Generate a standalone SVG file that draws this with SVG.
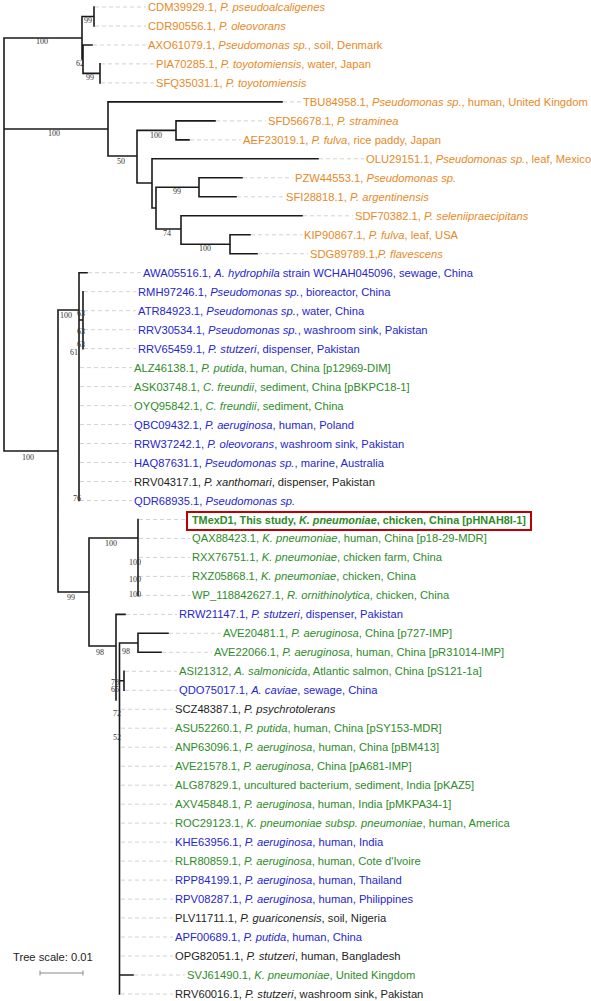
<svg xmlns="http://www.w3.org/2000/svg" width="591" height="1001" viewBox="0 0 591 1001">
<style>
.t{font-family:"Liberation Sans",Arial,sans-serif;font-size:11.2px}
.o{fill:#E8891F}.b{fill:#2626CF}.g{fill:#2E8B2A}.k{fill:#1E1E1E}
.i{font-style:italic}
.bs{font-family:"Liberation Serif","Times New Roman",serif;font-size:8px;fill:#333;text-anchor:middle}
.br{stroke:#1a1a1a;stroke-width:1.6;fill:none;stroke-linecap:square}
.ld{stroke:#d2d2d2;stroke-width:1;stroke-dasharray:4 3;fill:none}
</style>
<rect width="591" height="1001" fill="#fff"/>
<g id="connectors">
<path class="ld" d="M95,7H146M95,26H146M93,45H146M101,63.9H154M101,82.9H154M283,101.9H301M216,120.9H266M190,139.9H241M319,158.8H364M243,177.8H293M237,196.8H284M303,215.8H353M251,234.8H302M258,253.7H308M88,272.7H141M84,291.7H136M84,310.7H136M84,329.7H136M84,348.6H136M80,367.6H132M80,386.6H132M80,405.6H132M80,424.6H132M80,443.5H132M80,462.5H132M80,481.5H132M80,500.5H132M139,519.5H185M139,538.4H190M139,557.4H190M139,576.4H190M139,595.4H190M126,614.4H177M169,633.3H221M162,652.3H212M125,671.3H177M125,690.3H177M121,709.3H173M121,728.2H173M121,747.2H173M121,766.2H173M121,785.2H173M121,804.2H173M121,823.1H173M121,842.1H173M121,861.1H173M121,880.1H173M121,899.1H173M121,918H173M121,937H173M121,956H173M134,975H185M121,994H173"/>
<path class="br" d="M4,38V451M4,38H82M82,16.5V59M82,16.5H94M94,7V26M82,59H83M83,45V73.4M83,45H92M83,73.4H100M100,63.9V82.9
M4,129H108M108,101.9V156M108,101.9H282M108,156H137M137,130.4V183M137,130.4H176M176,120.9V139.9M176,120.9H215M176,139.9H189M137,183H152M152,158.8V208M152,158.8H318M152,208H156M156,187.3V229M156,187.3H199M199,177.8V196.8M199,177.8H242M199,196.8H236M156,229H181M181,215.8V244.3M181,215.8H302M181,244.3H230M230,234.8V253.7M230,234.8H250M230,253.7H257
M4,451H58M58,310V592M58,310H79M79,272.7V500.5M79,272.7H87M79,320H83M83,291.7V348.6
M58,592H89M89,538V646M89,538H138M138,519.5V595.4M89,646H116M116,614.4V700M116,614.4H125M119.5,643V994M119.5,643H138M138,633.3V652.3M138,633.3H168M138,652.3H161M119.5,680.8H124M124,671.3V690.3M119.5,975H133"/>
</g>
<g id="bootstrap">
<text class="bs" x="88" y="23">99</text>
<text class="bs" x="80" y="66">62</text>
<text class="bs" x="90" y="80">99</text>
<text class="bs" x="42" y="44">100</text>
<text class="bs" x="54" y="136">100</text>
<text class="bs" x="121" y="164">50</text>
<text class="bs" x="156" y="138">100</text>
<text class="bs" x="177" y="194">99</text>
<text class="bs" x="167" y="236">74</text>
<text class="bs" x="205" y="251">100</text>
<text class="bs" x="28" y="460">100</text>
<text class="bs" x="66" y="318">100</text>
<text class="bs" x="81" y="316">63</text>
<text class="bs" x="81" y="334">63</text>
<text class="bs" x="81" y="347">63</text>
<text class="bs" x="74" y="355">61</text>
<text class="bs" x="77" y="501">76</text>
<text class="bs" x="71" y="600">99</text>
<text class="bs" x="111" y="546">100</text>
<text class="bs" x="135" y="565">100</text>
<text class="bs" x="135" y="582">100</text>
<text class="bs" x="135" y="597">100</text>
<text class="bs" x="100" y="655">98</text>
<text class="bs" x="126" y="654">98</text>
<text class="bs" x="115" y="685">78</text>
<text class="bs" x="115" y="692">65</text>
<text class="bs" x="117" y="716">72</text>
<text class="bs" x="117" y="740">52</text>
</g>
<g id="n1"><text class="t o" x="148" y="11">CDM39929.1, <tspan class="i">P. pseudoalcaligenes</tspan></text></g>
<g id="n2"><text class="t o" x="148" y="30">CDR90556.1, <tspan class="i">P. oleovorans</tspan></text></g>
<g id="n3"><text class="t o" x="148" y="49">AXO61079.1, <tspan class="i">Pseudomonas sp.</tspan>, soil, Denmark</text></g>
<g id="n4"><text class="t o" x="156" y="67.9">PIA70285.1, <tspan class="i">P. toyotomiensis</tspan>, water, Japan</text></g>
<g id="n5"><text class="t o" x="156" y="86.9">SFQ35031.1, <tspan class="i">P. toyotomiensis</tspan></text></g>
<g id="n6"><text class="t o" x="303" y="105.9">TBU84958.1, <tspan class="i">Pseudomonas sp.</tspan>, human, United Kingdom</text></g>
<g id="n7"><text class="t o" x="268" y="124.9">SFD56678.1, <tspan class="i">P. straminea</tspan></text></g>
<g id="n8"><text class="t o" x="243" y="143.9">AEF23019.1, <tspan class="i">P. fulva</tspan>, rice paddy, Japan</text></g>
<g id="n9"><text class="t o" x="366" y="162.8">OLU29151.1, <tspan class="i">Pseudomonas sp.</tspan>, leaf, Mexico</text></g>
<g id="n10"><text class="t o" x="295" y="181.8">PZW44553.1, <tspan class="i">Pseudomonas sp.</tspan></text></g>
<g id="n11"><text class="t o" x="286" y="200.8">SFI28818.1, <tspan class="i">P. argentinensis</tspan></text></g>
<g id="n12"><text class="t o" x="355" y="219.8">SDF70382.1, <tspan class="i">P. seleniipraecipitans</tspan></text></g>
<g id="n13"><text class="t o" x="304" y="238.8">KIP90867.1, <tspan class="i">P. fulva</tspan>, leaf, USA</text></g>
<g id="n14"><text class="t o" x="310" y="257.7">SDG89789.1,<tspan class="i">P. flavescens</tspan></text></g>
<g id="n15"><text class="t b" x="143" y="276.7">AWA05516.1, <tspan class="i">A. hydrophila</tspan> strain WCHAH045096, sewage, China</text></g>
<g id="n16"><text class="t b" x="138" y="295.7">RMH97246.1, <tspan class="i">Pseudomonas sp.</tspan>, bioreactor, China</text></g>
<g id="n17"><text class="t b" x="138" y="314.7">ATR84923.1, <tspan class="i">Pseudomonas sp.</tspan>, water, China</text></g>
<g id="n18"><text class="t b" x="138" y="333.7">RRV30534.1, <tspan class="i">Pseudomonas sp.</tspan>, washroom sink, Pakistan</text></g>
<g id="n19"><text class="t b" x="138" y="352.6">RRV65459.1, <tspan class="i">P. stutzeri</tspan>, dispenser, Pakistan</text></g>
<g id="n20"><text class="t g" x="134" y="371.6">ALZ46138.1, <tspan class="i">P. putida</tspan>, human, China [p12969-DIM]</text></g>
<g id="n21"><text class="t g" x="134" y="390.6">ASK03748.1, <tspan class="i">C. freundii</tspan>, sediment, China [pBKPC18-1]</text></g>
<g id="n22"><text class="t g" x="134" y="409.6">OYQ95842.1, <tspan class="i">C. freundii</tspan>, sediment, China</text></g>
<g id="n23"><text class="t b" x="134" y="428.6">QBC09432.1, <tspan class="i">P. aeruginosa</tspan>, human, Poland</text></g>
<g id="n24"><text class="t b" x="134" y="447.5">RRW37242.1, <tspan class="i">P. oleovorans</tspan>, washroom sink, Pakistan</text></g>
<g id="n25"><text class="t b" x="134" y="466.5">HAQ87631.1, <tspan class="i">Pseudomonas sp.</tspan>, marine, Australia</text></g>
<g id="n26"><text class="t k" x="134" y="485.5">RRV04317.1, <tspan class="i">P. xanthomari</tspan>, dispenser, Pakistan</text></g>
<g id="n27"><text class="t b" x="134" y="504.5">QDR68935.1, <tspan class="i">Pseudomonas sp.</tspan></text></g>
<g id="n28"><rect x="187" y="512" width="344" height="18" fill="none" stroke="#C00000" stroke-width="2"/><text class="t g" x="192" y="523.5" font-weight="bold" textLength="334" lengthAdjust="spacingAndGlyphs">TMexD1, This study, <tspan class="i">K. pneumoniae</tspan>, chicken, China [pHNAH8I-1]</text></g>
<g id="n29"><text class="t g" x="192" y="542.4">QAX88423.1, <tspan class="i">K. pneumoniae</tspan>, human, China [p18-29-MDR]</text></g>
<g id="n30"><text class="t g" x="192" y="561.4">RXX76751.1, <tspan class="i">K. pneumoniae</tspan>, chicken farm, China</text></g>
<g id="n31"><text class="t g" x="192" y="580.4">RXZ05868.1, <tspan class="i">K. pneumoniae</tspan>, chicken, China</text></g>
<g id="n32"><text class="t g" x="192" y="599.4">WP_118842627.1, <tspan class="i">R. ornithinolytica</tspan>, chicken, China</text></g>
<g id="n33"><text class="t b" x="179" y="618.4">RRW21147.1, <tspan class="i">P. stutzeri</tspan>, dispenser, Pakistan</text></g>
<g id="n34"><text class="t g" x="223" y="637.3">AVE20481.1, <tspan class="i">P. aeruginosa</tspan>, China [p727-IMP]</text></g>
<g id="n35"><text class="t g" x="214" y="656.3">AVE22066.1, <tspan class="i">P. aeruginosa</tspan>, human, China [pR31014-IMP]</text></g>
<g id="n36"><text class="t g" x="179" y="675.3">ASI21312, <tspan class="i">A. salmonicida</tspan>, Atlantic salmon, China [pS121-1a]</text></g>
<g id="n37"><text class="t b" x="179" y="694.3">QDO75017.1, <tspan class="i">A. caviae</tspan>, sewage, China</text></g>
<g id="n38"><text class="t k" x="175" y="713.3">SCZ48387.1, <tspan class="i">P. psychrotolerans</tspan></text></g>
<g id="n39"><text class="t g" x="175" y="732.2">ASU52260.1, <tspan class="i">P. putida</tspan>, human, China [pSY153-MDR]</text></g>
<g id="n40"><text class="t g" x="175" y="751.2">ANP63096.1, <tspan class="i">P. aeruginosa</tspan>, human, China [pBM413]</text></g>
<g id="n41"><text class="t g" x="175" y="770.2">AVE21578.1, <tspan class="i">P. aeruginosa</tspan>, China [pA681-IMP]</text></g>
<g id="n42"><text class="t g" x="175" y="789.2">ALG87829.1, uncultured bacterium, sediment, India [pKAZ5]</text></g>
<g id="n43"><text class="t g" x="175" y="808.2">AXV45848.1, <tspan class="i">P. aeruginosa</tspan>, human, India [pMKPA34-1]</text></g>
<g id="n44"><text class="t g" x="175" y="827.1">ROC29123.1, <tspan class="i">K. pneumoniae subsp. pneumoniae</tspan>, human, America</text></g>
<g id="n45"><text class="t b" x="175" y="846.1">KHE63956.1, <tspan class="i">P. aeruginosa</tspan>, human, India</text></g>
<g id="n46"><text class="t g" x="175" y="865.1">RLR80859.1, <tspan class="i">P. aeruginosa</tspan>, human, Cote d'Ivoire</text></g>
<g id="n47"><text class="t b" x="175" y="884.1">RPP84199.1, <tspan class="i">P. aeruginosa</tspan>, human, Thailand</text></g>
<g id="n48"><text class="t b" x="175" y="903.1">RPV08287.1, <tspan class="i">P. aeruginosa</tspan>, human, Philippines</text></g>
<g id="n49"><text class="t k" x="175" y="922">PLV11711.1, <tspan class="i">P. guariconensis</tspan>, soil, Nigeria</text></g>
<g id="n50"><text class="t b" x="175" y="941">APF00689.1, <tspan class="i">P. putida</tspan>, human, China</text></g>
<g id="n51"><text class="t k" x="175" y="960">OPG82051.1, <tspan class="i">P. stutzeri</tspan>, human, Bangladesh</text></g>
<g id="n52"><text class="t g" x="187" y="979">SVJ61490.1, <tspan class="i">K. pneumoniae</tspan>, United Kingdom</text></g>
<g id="n53"><text class="t k" x="175" y="998">RRV60016.1, <tspan class="i">P. stutzeri</tspan>, washroom sink, Pakistan</text></g>
<g id="scale">
<text class="t k" x="13" y="961">Tree scale: 0.01</text>
<path d="M40,973H83M40,970.5V975.5M83,970.5V975.5" stroke="#888" stroke-width="1" fill="none"/>
</g>
</svg>
